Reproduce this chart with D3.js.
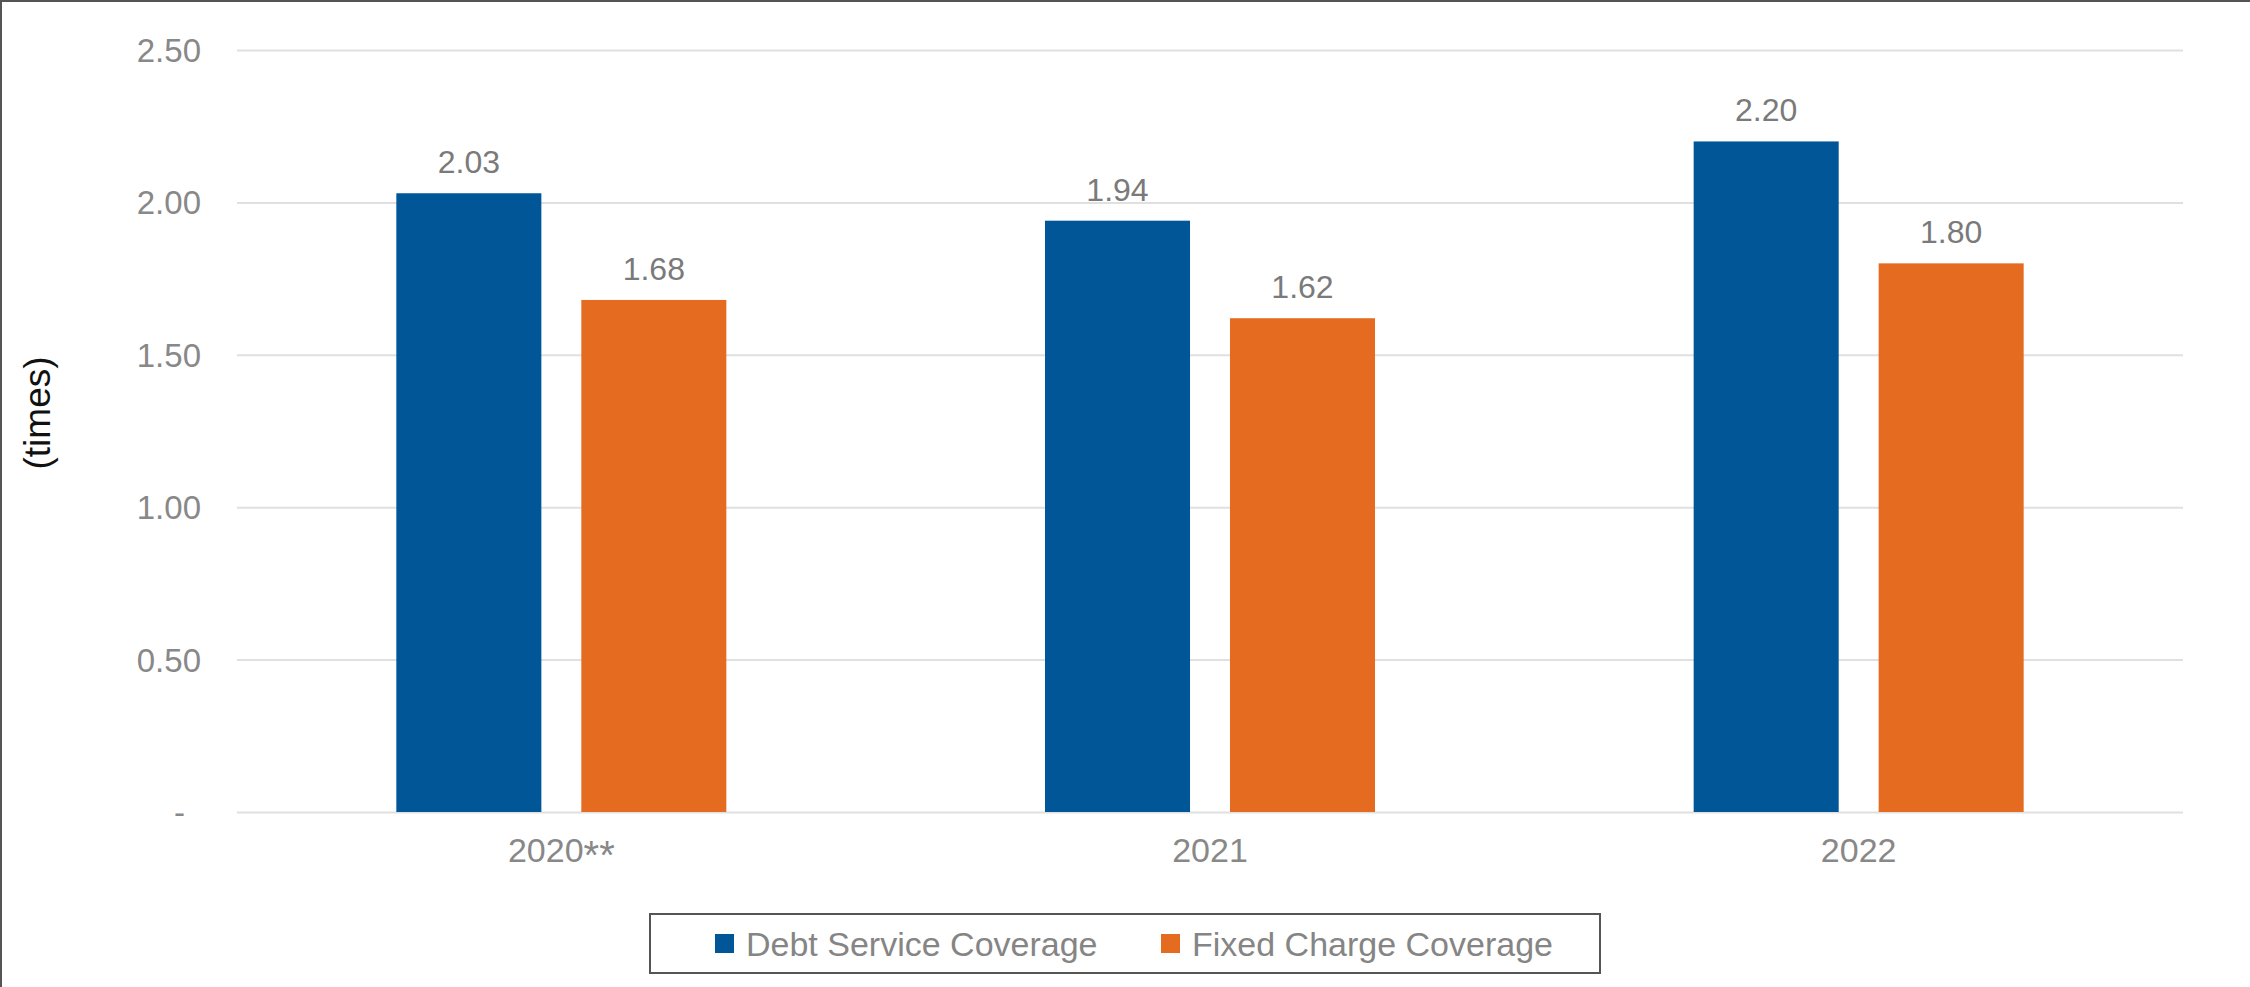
<!DOCTYPE html>
<html>
<head>
<meta charset="utf-8">
<script src="https://cdn.jsdelivr.net/npm/d3@7/dist/d3.min.js"></script>
<style>
  html, body { margin: 0; padding: 0; background: #fff; }
  svg { display: block; }
  text { font-family: "Liberation Sans", Arial, sans-serif; }
</style>
</head>
<body>
<svg id="chart" width="2250" height="987"></svg>
<script>
const categories = ["2020**", "2021", "2022"];
const seriesNames = ["Debt Service Coverage", "Fixed Charge Coverage"];
const debtService = [2.03, 1.94, 2.20];
const fixedCharge = [1.68, 1.62, 1.80];
const tickValues = [0, 0.5, 1.0, 1.5, 2.0, 2.5];
const tickLabels = ["-", "0.50", "1.00", "1.50", "2.00", "2.50"];
const colors = ["#005697", "#E56B21"];

const W = 2250, H = 987;
const margin = { left: 237, right: 2183, top: 50, bottom: 812 };
const svg = d3.select("#chart");

svg.append("rect").attr("x", 0).attr("y", 0).attr("width", W).attr("height", H).attr("fill", "#fff");

const x0 = d3.scaleBand().domain(categories).range([margin.left, margin.right]).paddingInner(0).paddingOuter(0);
const bw = x0.bandwidth();
const x1 = d3.scaleBand().domain(seriesNames)
  .range([bw / 2 - 165, bw / 2 + 165]).paddingInner(0.216).paddingOuter(0);
const y = d3.scaleLinear().domain([0, 2.5]).range([margin.bottom, margin.top]);

// gridlines
const yAxis = d3.axisLeft(y).tickValues(tickValues)
  .tickSize(-(margin.right - margin.left))
  .tickFormat((d, i) => tickLabels[i]);
const gy = svg.append("g").attr("transform", `translate(${margin.left},0)`).call(yAxis);
gy.select(".domain").remove();
gy.selectAll(".tick line").attr("stroke", "#e0e0e0").attr("stroke-width", 2);
gy.selectAll(".tick text")
  .attr("x", -36)
  .attr("dx", (d, i) => tickLabels[i] === "-" ? -16 : 0)
  .attr("dy", "0.35em")
  .attr("fill", "#888888")
  .style("font-size", "33px");

// bars
const data = categories.map((c, i) => ({ cat: c, values: [debtService[i], fixedCharge[i]] }));
const groups = svg.append("g").selectAll("g").data(data).join("g")
  .attr("transform", d => `translate(${x0(d.cat)},0)`);
groups.selectAll("rect").data(d => d.values.map((v, j) => ({ v, s: seriesNames[j], j })))
  .join("rect")
  .attr("x", d => x1(d.s))
  .attr("width", x1.bandwidth())
  .attr("y", d => y(d.v))
  .attr("height", d => y(0) - y(d.v))
  .attr("fill", d => colors[d.j]);
groups.selectAll("text.lbl").data(d => d.values.map((v, j) => ({ v, s: seriesNames[j], j })))
  .join("text").attr("class", "lbl")
  .attr("x", d => x1(d.s) + x1.bandwidth() / 2)
  .attr("y", d => y(d.v) - 20)
  .attr("text-anchor", "middle")
  .attr("fill", "#7a7a7a")
  .style("font-size", "32px")
  .text(d => d.v.toFixed(2));

// x labels
const xAxis = d3.axisBottom(x0).tickSize(0);
const gx = svg.append("g").attr("transform", `translate(0,${margin.bottom})`).call(xAxis);
gx.select(".domain").remove();
gx.selectAll(".tick text").attr("y", 50).attr("dy", 0)
  .attr("fill", "#888888").style("font-size", "34px")
  .each(function (d) {
    const t = d3.select(this);
    const m = d.match(/^(\d+)(\*+)$/);
    if (m) {
      t.text(null);
      t.append("tspan").text(m[1]);
      t.append("tspan").attr("dy", 7).style("font-size", "40px").text(m[2]);
    }
  });

// y title
svg.append("text")
  .attr("transform", `translate(50,413) rotate(-90)`)
  .attr("text-anchor", "middle")
  .attr("fill", "#111")
  .style("font-size", "37px")
  .text("(times)");

// legend
const lg = svg.append("g");
lg.append("rect").attr("x", 650).attr("y", 914).attr("width", 950).attr("height", 59)
  .attr("fill", "#fff").attr("stroke", "#555").attr("stroke-width", 2);
const legendX = [715, 1161];
seriesNames.forEach((s, i) => {
  lg.append("rect").attr("x", legendX[i]).attr("y", 934).attr("width", 19).attr("height", 19).attr("fill", colors[i]);
  lg.append("text").attr("x", legendX[i] + 31).attr("y", 956)
    .attr("fill", "#858585").style("font-size", "34px").text(s);
});

// chart border (top and left visible)
svg.append("line").attr("x1", 0).attr("x2", W).attr("y1", 1).attr("y2", 1).attr("stroke", "#555").attr("stroke-width", 2);
svg.append("line").attr("x1", 1).attr("x2", 1).attr("y1", 0).attr("y2", H).attr("stroke", "#555").attr("stroke-width", 2);
</script>
</body>
</html>
